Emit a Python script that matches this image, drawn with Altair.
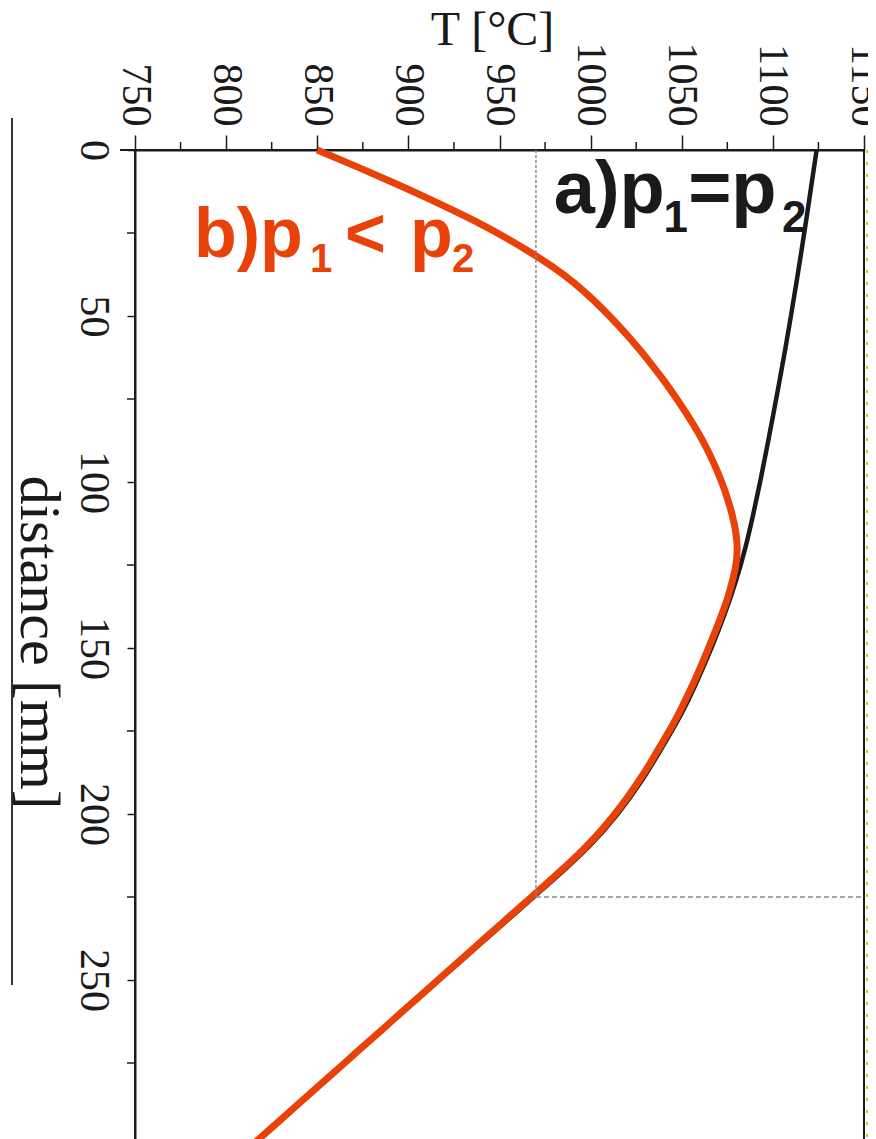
import altair as alt
import pandas as pd

# ---- data ----
red_d = list(range(0, 301, 5))
red_T = [850, 871.6, 892.5, 912.5, 931.4, 948.8, 964.4, 978.6, 990.8, 1001.1,
         1010.3, 1018.8, 1026.7, 1034, 1040.9, 1047.3, 1053.3, 1058.9, 1063.8, 1068.1,
         1071.9, 1075.1, 1077.7, 1079.6, 1080.4, 1079.7, 1077.7, 1075.1, 1071.9, 1068.4,
         1064.7, 1060.9, 1056.9, 1052.6, 1048.1, 1043.1, 1037.7, 1032.3, 1026.5, 1020.2,
         1013.3, 1005.7, 997.2, 987.8, 977.7, 967.5, 957.2, 947, 936.7, 926.5,
         916.2, 906, 895.7, 885.5, 875.2, 865, 854.7, 844.5, 834.2, 824, 813.7]

black_d = list(range(0, 301, 10))
black_T = [1124, 1121.3, 1118.6, 1115.8, 1112.9, 1109.9, 1106.8, 1103.5, 1100.1, 1096.6,
           1093, 1089.1, 1084.8, 1079.6, 1073.4, 1066.3, 1058.4, 1049.6, 1039.2, 1028,
           1014.8, 998.7, 979.2, 958.5, 937.7, 917, 896, 875.5, 855, 834.5, 814]

x_major = [750, 800, 850, 900, 950, 1000, 1050, 1100, 1150]
x_minor = [775, 825, 875, 925, 975, 1025, 1075, 1125]
y_major = [0, 50, 100, 150, 200, 250]
y_minor = [25, 75, 125, 175, 225, 275]

ref_T = [970]
ref_d = [225]
T_min, T_max = 750, 1150
d_min, d_max = 0, 300

ann_text = ["a)p", "1", "=p", "2", "b)p", "1", "<", "p", "2"]
ann_T = [979.8, 1040.0, 1053.5, 1105.0, 782.4, 846.0, 865.2, 900.9, 924.0]
ann_d = [19.0, 24.7, 19.0, 24.7, 32.2, 36.7, 32.2, 32.2, 36.7]
ann_size = [74, 44, 74, 44, 70, 40, 70, 70, 40]
ann_color = ["#1a1a1a"] * 4 + ["#e8420a"] * 5

RED = "#e8420a"
BLACK = "#1a1a1a"
SERIF = "Liberation Serif"

red_df = pd.DataFrame({"d": red_d, "T": red_T})
black_df = pd.DataFrame({"d": black_d, "T": black_T})
ref_df = pd.DataFrame({"T": ref_T, "d": ref_d, "d0": [d_min], "T1": [T_max],
                       "d1": [d_max]})
ann_df = pd.DataFrame({"text": ann_text, "T": ann_T, "d": ann_d,
                       "size": ann_size, "color": ann_color})
xmin_df = pd.DataFrame({"T": x_minor})
ymin_df = pd.DataFrame({"d": y_minor})

xs = alt.Scale(domain=[T_min, T_max], nice=False, zero=False)
ys = alt.Scale(domain=[d_min, d_max], nice=False, zero=False, reverse=True)

x_axis = alt.Axis(orient="top", values=x_major, format="d", labelAngle=90,
                  labelAlign="right", labelBaseline="middle", labelFont=SERIF,
                  labelFontSize=42, labelColor=BLACK, labelPadding=9, tickSize=15,
                  tickWidth=1.5, tickColor=BLACK, domainColor=BLACK, domainWidth=2,
                  grid=False, labelOverlap=False,
                  title="T [°C]", titleFont=SERIF, titleFontSize=48,
                  titleFontWeight="normal", titleColor=BLACK, titleAlign="center",
                  titleBaseline="alphabetic", titleX=357, titleY=-106)
y_axis = alt.Axis(orient="left", values=y_major, format="d", labelAngle=90,
                  labelAlign="center", labelBaseline="top", labelFont=SERIF,
                  labelFontSize=42, labelColor=BLACK, labelPadding=14, tickSize=8,
                  tickWidth=1.5, tickColor=BLACK, domainColor=BLACK, domainWidth=2,
                  grid=False, labelOverlap=False,
                  title="distance [mm]", titleFont=SERIF, titleFontSize=58,
                  titleFontWeight="normal", titleColor=BLACK, titleAngle=90,
                  titleAlign="center", titleBaseline="alphabetic",
                  titleX=-115, titleY=492)

black_line = alt.Chart(black_df).mark_line(color=BLACK, strokeWidth=4.5,
                                           interpolate="natural").encode(
    x=alt.X("T:Q", scale=xs, axis=x_axis),
    y=alt.Y("d:Q", scale=ys, axis=y_axis),
    order="d:Q",
)
red_line = alt.Chart(red_df).mark_line(color=RED, strokeWidth=7,
                                       interpolate="natural").encode(
    x=alt.X("T:Q"),
    y=alt.Y("d:Q"),
    order="d:Q",
)
# minor ticks (outside the plot, positioned through the shared scales)
x_minor_ticks = alt.Chart(xmin_df).mark_rule(color=BLACK, strokeWidth=1.5).encode(
    x=alt.X("T:Q"), y=alt.value(-8), y2=alt.value(0),
)
y_minor_ticks = alt.Chart(ymin_df).mark_rule(color=BLACK, strokeWidth=1.5).encode(
    y=alt.Y("d:Q"), x=alt.value(-8), x2=alt.value(0),
)
dot_v = alt.Chart(ref_df).mark_rule(color="#8a8a8a", strokeWidth=1.5,
                                    strokeDash=[3, 2]).encode(
    x=alt.X("T:Q"), y=alt.Y("d0:Q"), y2="d:Q",
)
dot_h = alt.Chart(ref_df).mark_rule(color="#8a8a8a", strokeWidth=1.5,
                                    strokeDash=[5, 3]).encode(
    y=alt.Y("d:Q"), x=alt.X("T:Q"), x2="T1:Q",
)
yellow = alt.Chart(ref_df).mark_rule(color="#c8d400", strokeWidth=2,
                                     strokeDash=[3, 9], xOffset=3).encode(
    x=alt.X("T1:Q"), y=alt.Y("d0:Q"), y2="d1:Q",
)
ann = alt.Chart(ann_df).mark_text(align="left", baseline="alphabetic",
                                  font="Liberation Sans", fontWeight="bold").encode(
    x=alt.X("T:Q"),
    y=alt.Y("d:Q"),
    text="text:N",
    size=alt.Size("size:Q", scale=None),
    color=alt.Color("color:N", scale=None),
)
edge = alt.Chart(ref_df).mark_rule(color="#333333", strokeWidth=2).encode(
    x=alt.value(-123), y=alt.value(-32), y2=alt.value(835),
)
domain_ext = alt.Chart(ref_df).mark_rule(color=BLACK, strokeWidth=2).encode(
    x=alt.value(-15), x2=alt.value(0), y=alt.value(0),
)

chart = alt.layer(
    black_line, red_line, x_minor_ticks, y_minor_ticks, dot_v, dot_h, yellow, ann,
    edge, domain_ext
).properties(
    width=729, height=996,
    autosize=alt.AutoSizeParams(type="none"),
    padding={"left": 127, "top": 142, "right": 4, "bottom": 0},
).configure_view(stroke=BLACK, strokeWidth=2)

chart.save("out.html", embed_options={"renderer": "svg", "actions": False})
